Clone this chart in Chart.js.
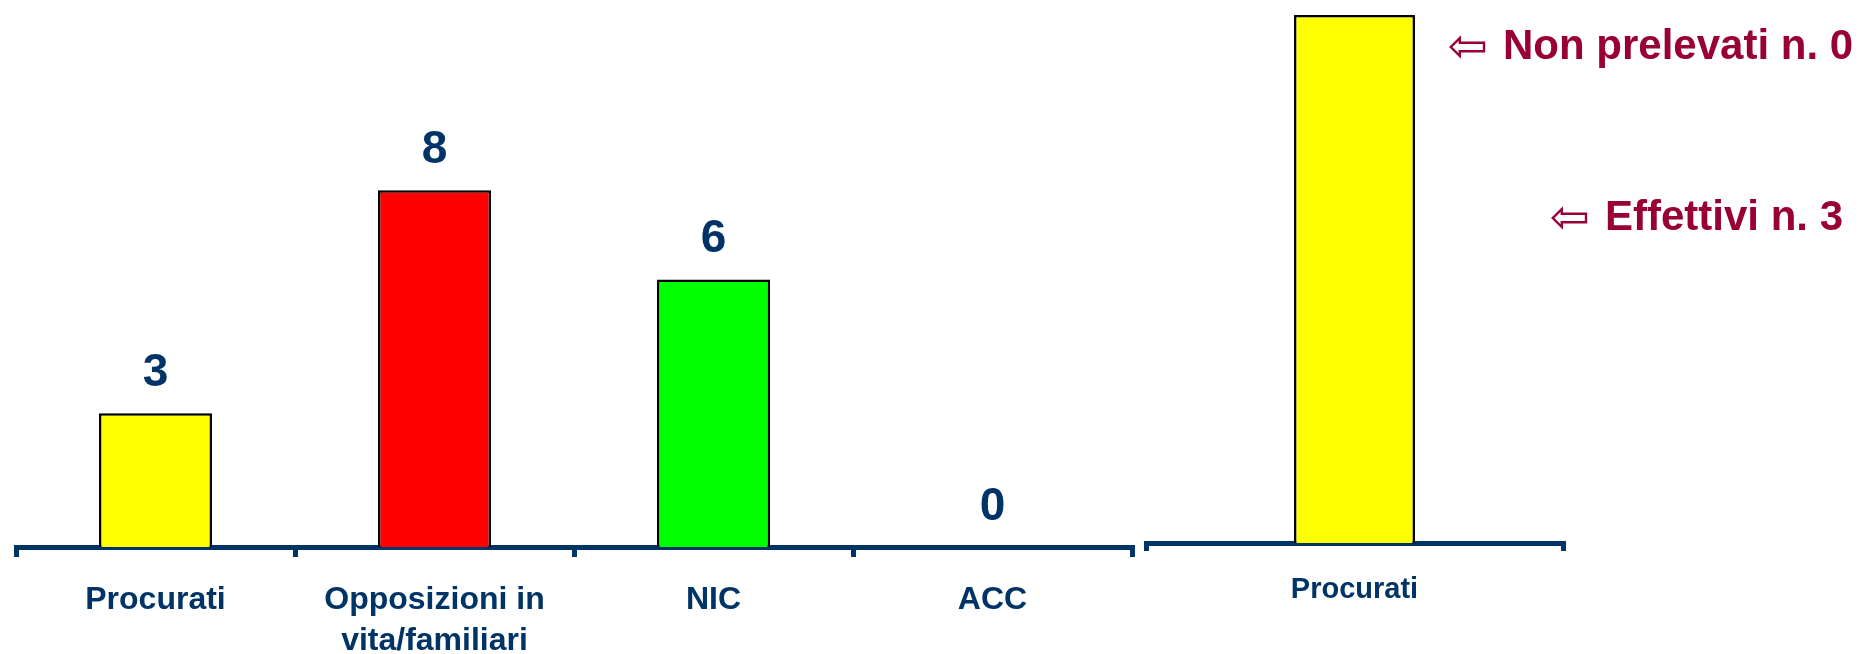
<!DOCTYPE html>
<html>
<head>
<meta charset="utf-8">
<script src="https://cdn.jsdelivr.net/npm/chart.js@4.4.1/dist/chart.umd.min.js"></script>
<style>
  html, body { margin: 0; padding: 0; background: #fff; }
  #left { position: absolute; left: 0; top: 0; width: 1140px; height: 654px; }
  #right { position: absolute; left: 1140px; top: 0; width: 725px; height: 654px; }
</style>
</head>
<body>
<div id="left"><canvas id="chartLeft"></canvas></div>
<div id="right"><canvas id="chartRight"></canvas></div>
<script>
// left chart data
const categories = ['Procurati', ['Opposizioni in', 'vita/familiari'], 'NIC', 'ACC'];
const counts = [3, 8, 6, 0];
const barColors = ['#ffff00', '#ff0000', '#00ff00', '#0000ff'];

// right chart data
const rightCategories = ['Procurati'];
const effettivi = [3];
const nonPrelevati = [0];

const navy = '#003366';
const wine = '#990033';
const font = '"Liberation Sans", Arial, sans-serif';

// writes the numbers over the bars
const valueLabels = {
    id: 'valueLabels',
    afterDatasetsDraw(chart) {
        const ctx = chart.ctx;
        const meta = chart.getDatasetMeta(0);
        ctx.save();
        ctx.font = 'bold 46px ' + font;
        ctx.fillStyle = navy;
        ctx.textAlign = 'center';
        ctx.textBaseline = 'middle';
        meta.data.forEach((bar, i) => {
            ctx.fillText(counts[i], bar.x, bar.y - 40);
        });
        ctx.restore();
    }
};

// notes on the right of the single bar
const notes = {
    id: 'notes',
    afterDraw(chart) {
        const ctx = chart.ctx;
        const rows = [
            {arrowX: 348, x: 363, y: 47, text: 'Non prelevati n. ' + nonPrelevati[0]},
            {arrowX: 450, x: 465, y: 218, text: 'Effettivi n. ' + effettivi[0]}
        ];
        ctx.save();
        ctx.fillStyle = wine;
        ctx.textBaseline = 'middle';
        rows.forEach(r => {
            ctx.font = '48px "DejaVu Sans", sans-serif';
            ctx.textAlign = 'right';
            ctx.fillText('\u21E6', r.arrowX, r.y + 3);
            ctx.font = 'bold 42px ' + font;
            ctx.textAlign = 'left';
            ctx.fillText(r.text, r.x, r.y);
        });
        ctx.restore();
    }
};

function xAxis(size, tick, pad, height) {
    return {
        grid: {
            drawOnChartArea: false,
            drawTicks: true,
            tickLength: tick,
            color: navy,
            lineWidth: 5,
            offset: true
        },
        border: { display: true, color: navy, width: 5 },
        ticks: {
            color: navy,
            padding: pad,
            maxRotation: 0,
            autoSkip: false,
            font: { family: font, size: size, weight: 'bold', lineHeight: 1.3 }
        },
        afterFit(scale) { scale.height = height; }
    };
}

new Chart(document.getElementById('chartLeft'), {
    type: 'bar',
    data: {
        labels: categories,
        datasets: [{
            data: counts,
            backgroundColor: barColors,
            borderColor: '#000',
            borderWidth: 2.5,
            categoryPercentage: 1,
            barPercentage: 0.405
        }]
    },
    options: {
        responsive: true,
        maintainAspectRatio: false,
        animation: false,
        layout: { padding: { left: 16, right: 8, top: 101, bottom: 0 } },
        plugins: { legend: { display: false }, tooltip: { enabled: false } },
        scales: {
            x: xAxis(32, 10, 22, 107),
            y: { display: false, min: 0, max: 10 }
        }
    },
    plugins: [valueLabels]
});

new Chart(document.getElementById('chartRight'), {
    type: 'bar',
    data: {
        labels: rightCategories,
        datasets: [
            {
                label: 'Effettivi',
                data: effettivi,
                backgroundColor: '#ffff00',
                borderColor: '#000',
                borderWidth: 2.5,
                categoryPercentage: 1,
                barPercentage: 0.29
            },
            {
                label: 'Non prelevati',
                data: nonPrelevati,
                backgroundColor: '#ffff00',
                borderColor: '#000',
                borderWidth: 2.5,
                categoryPercentage: 1,
                barPercentage: 0.29
            }
        ]
    },
    options: {
        responsive: true,
        maintainAspectRatio: false,
        animation: false,
        layout: { padding: { left: 6, right: 302, top: 15, bottom: 0 } },
        plugins: { legend: { display: false }, tooltip: { enabled: false } },
        scales: {
            x: Object.assign(xAxis(29, 8, 20, 111), { stacked: true }),
            y: { display: false, stacked: true, min: 0, max: 3 }
        }
    },
    plugins: [notes]
});
</script>
</body>
</html>
